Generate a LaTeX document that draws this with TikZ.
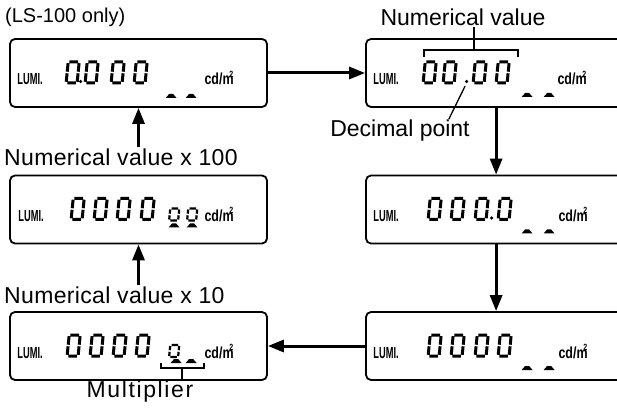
\documentclass[tikz,border=0pt]{standalone}
\usepackage{fontspec}
\setmainfont{Liberation Sans}
\newfontfamily\lumifont[FakeStretch=0.58]{Liberation Sans}
\newfontfamily\unitfont[FakeStretch=0.78]{Liberation Sans}
\usetikzlibrary{arrows.meta,positioning,calc}
\newcommand{\cdm}{cd/m\llap{\raisebox{7.5pt}{\fontsize{9}{9}\selectfont 2}\kern0.4pt}}

\tikzset{
  lcd/.style={draw, line width=1.8pt, rounded corners=5pt, inner sep=0pt, minimum height=68pt},
  flow/.style={line width=3pt, -{Triangle[length=16pt,width=12pt]}},
  lbl/.style={font=\fontsize{23}{26}\selectfont, inner sep=1pt},
  lumi/.style={font=\lumifont\bfseries\fontsize{16}{16}\selectfont, anchor=base, inner sep=0pt},
  unit/.style={font=\unitfont\bfseries\fontsize{16}{16}\selectfont, anchor=base, inner sep=0pt},
  seg/.style={line width=3pt},
  lcdzero/.pic={
    \draw[seg, xslant=0.1] (1.2,21) -- (9.8,21)  (0,19.8) -- (0,11.3)  (11,19.8) -- (11,11.3)
      (0,9.7) -- (0,1.2)  (11,9.7) -- (11,1.2)  (1.2,0) -- (9.8,0);
  },
  smallzero/.pic={
    \draw[line width=2.2pt, xslant=0.1] (1.2,12) -- (7.8,12)  (0,11) -- (0,6.8)  (9,11) -- (9,6.8)
      (0,5.2) -- (0,1)  (9,5.2) -- (9,1)  (1.2,0) -- (7.8,0);
  },
  hump/.pic={
    \fill (-5.5,0) -- (-2,4) -- (2,4) -- (5.5,0) -- cycle;
  }
}

\begin{document}
\begin{tikzpicture}[x=1pt, y=1pt]
  \path[use as bounding box, clip] (0,0) rectangle (617,415);

  % Top row
  \node[lcd, minimum width=257pt] (p1) at (138.5,342) {};
  \node[lcd, minimum width=290pt] (p2) at (511,342) {};
  \node[lbl, anchor=west, font=\fontsize{20}{22}\selectfont] (lsonly) at (4,398) {(LS-100 only)};
  \node[lbl] (numval) at (463,398) {Numerical value};
  \node[lbl] (decpt) at (400,284) {Decimal point};

  % LS-100 only display
  \begin{scope}[shift={(p1.west)}]
    \node[lumi] (lumi1) at (21,-12) {LUMI.};
    \foreach \dx in {57,76,102,125} \pic at (\dx,-10) {lcdzero};
    \fill (71.5,-8.5) circle (1.8);
    \foreach \mx in {162,182} \pic at (\mx,-25) {hump};
    \node[unit] (unit1) at (210,-12) {\cdm};
  \end{scope}

  % Numerical value display
  \begin{scope}[shift={(p2.west)}]
    \node[lumi] (lumi2) at (21,-12) {LUMI.};
    \foreach \dx in {58,78,108,131} \pic at (\dx,-10) {lcdzero};
    \fill (101.5,-8.5) circle (1.8);
    \coordinate (dpt) at (100,-13);
    \foreach \mx in {162,184} \pic at (\mx,-24) {hump};
    \node[unit] (unit2) at (207,-12) {\cdm};
    % bracket over the digits
    \draw[line width=1.5pt] (59,16) -- (59,23) -- (153,23) -- (153,16);
    \coordinate (nstem) at (109,23);
    \coordinate (vdrop) at (131,0);
  \end{scope}
  \draw[line width=1.5pt] (nstem) -- (nstem |- numval.south);
  \draw[line width=1.3pt] (dpt) -- ([xshift=-22pt]decpt.north east);

  % Middle row
  \node[lcd, minimum width=290pt] (p3) at (511,205.5) {};
  \node[lcd, minimum width=257pt] (p6) at (138.5,205.5) {};
  \node[lbl, anchor=west] (x100) at (3,258) {\addfontfeature{LetterSpace=1.5}Numerical value x 100};

  \begin{scope}[shift={(p3.west)}]
    \node[lumi] (lumi3) at (21,-12) {LUMI.};
    \foreach \dx in {63,86,110,133} \pic at (\dx,-10) {lcdzero};
    \fill (126.5,-8.5) circle (1.8);
    \foreach \mx in {162,184} \pic at (\mx,-24) {hump};
    \node[unit] (unit3) at (208,-12) {\cdm};
  \end{scope}

  \begin{scope}[shift={(p6.west)}]
    \node[lumi] (lumi6) at (22,-12) {LUMI.};
    \foreach \dx in {62,85,108,132} \pic at (\dx,-10) {lcdzero};
    \foreach \dx in {160,178} \pic at (\dx,-11) {smallzero};
    \foreach \mx in {165,183} \pic at (\mx,-18) {hump};
    \node[unit] (unit6) at (210,-12) {\cdm};
  \end{scope}

  % Bottom row
  \node[lcd, minimum width=290pt] (p4) at (511,69) {};
  \node[lcd, minimum width=257pt] (p5) at (138.5,69) {};
  \node[lbl, anchor=west] (x10) at (3,120) {\addfontfeature{LetterSpace=1.5}Numerical value x 10};
  \node[lbl] (mult) at (140,23) {\addfontfeature{LetterSpace=7}Multiplier};

  \begin{scope}[shift={(p4.west)}]
    \node[lumi] (lumi4) at (21,-12) {LUMI.};
    \foreach \dx in {63,86,110,133} \pic at (\dx,-10) {lcdzero};
    \foreach \mx in {162,184} \pic at (\mx,-24) {hump};
    \node[unit] (unit4) at (208,-12) {\cdm};
  \end{scope}

  \begin{scope}[shift={(p5.west)}]
    \node[lumi] (lumi5) at (21,-12) {LUMI.};
    \foreach \dx in {58,81,104,127} \pic at (\dx,-10) {lcdzero};
    \pic at (160,-11) {smallzero};
    \foreach \mx in {167,182} \pic at (\mx,-17) {hump};
    \node[unit] (unit5) at (210,-12) {\cdm};
    % bracket under the multiplier
    \draw[line width=1.5pt] (152,-17) -- (152,-22) -- (195,-22) -- (195,-17);
    \coordinate (mstem) at (173,-22);
  \end{scope}
  \draw[line width=1.5pt] (mstem) -- (mstem |- mult.north);

  % Arrows
  \draw[flow] (p1) -- (p2);
  \draw[flow] (p2.south -| vdrop) -- (p3.north -| vdrop);
  \draw[flow] (p3.south -| vdrop) -- (p4.north -| vdrop);
  \draw[flow] (p4) -- (p5);
  \draw[flow] (x10.north -| p6.south) -- (p6.south);
  \draw[flow] (x100.north -| p1.south) -- (p1.south);
\end{tikzpicture}
\end{document}
